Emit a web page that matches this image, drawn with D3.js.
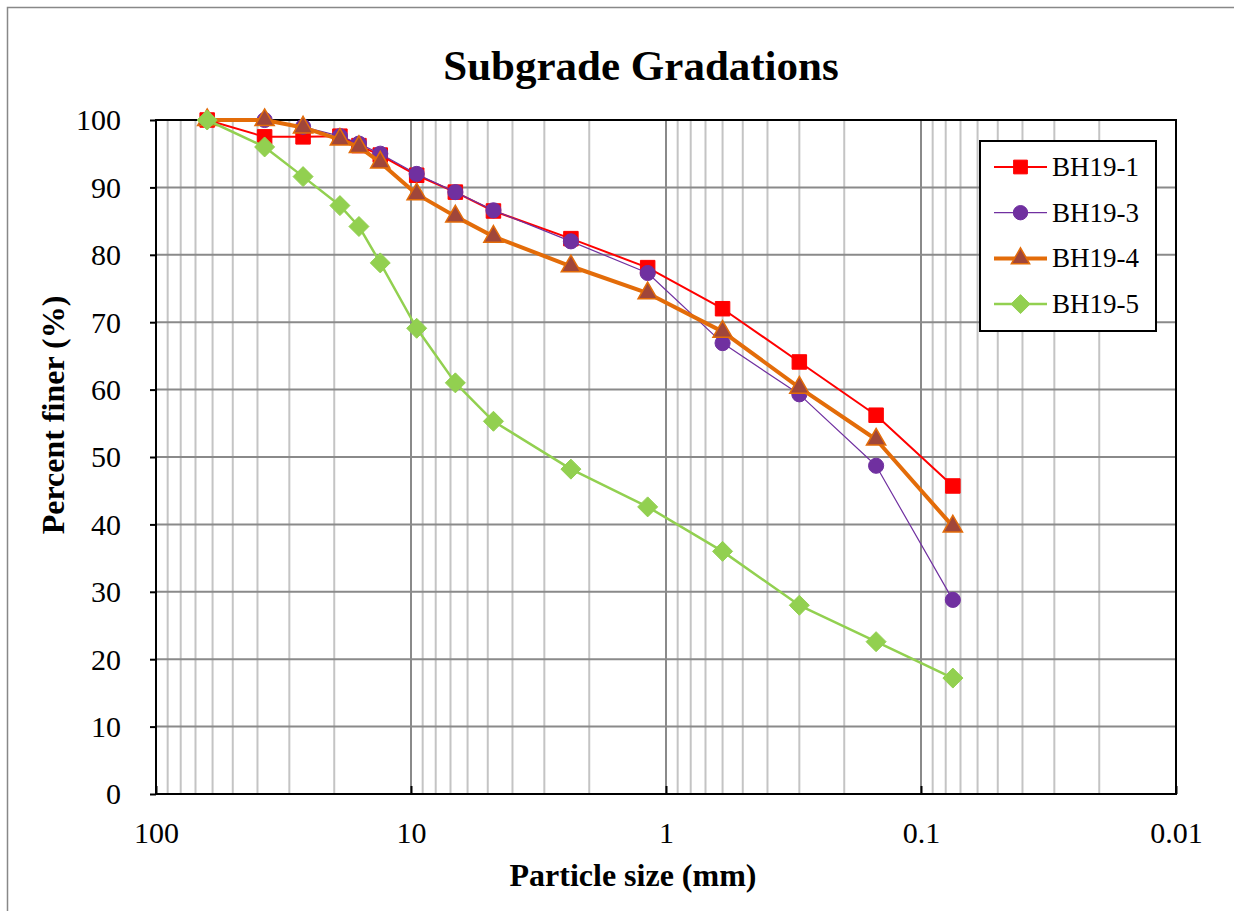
<!DOCTYPE html>
<html><head><meta charset="utf-8">
<script src="https://cdn.jsdelivr.net/npm/d3@7"></script>
<style>body{margin:0;background:#fff;} svg{display:block;}</style>
</head><body>
<script>
const sizes = [63, 37.5, 26.5, 19, 16, 13.2, 9.5, 6.7, 4.75, 2.36, 1.18, 0.6, 0.3, 0.15, 0.075];
const bh19_1 = [100, 97.5, 97.5, 97.6, 96.2, 94.8, 91.8, 89.3, 86.5, 82.4, 78.1, 72.0, 64.1, 56.2, 45.7];
const bh19_3 = [null, 100, 99.0, 97.6, 96.5, 95.0, 92.0, 89.3, 86.6, 82.0, 77.3, 66.9, 59.3, 48.7, 28.8];
const bh19_4 = [100, 100, 98.9, 97.1, 96.0, 93.7, 89.0, 85.7, 82.7, 78.3, 74.3, 68.6, 60.3, 52.6, 39.7];
const bh19_5 = [100, 96.0, 91.6, 87.3, 84.2, 78.8, 69.1, 61.0, 55.3, 48.2, 42.6, 36.0, 28.0, 22.6, 17.2];
const seriesNames = ["BH19-1", "BH19-3", "BH19-4", "BH19-5"];
const xTicks = [100, 10, 1, 0.1, 0.01];
const yTicks = [0, 10, 20, 30, 40, 50, 60, 70, 80, 90, 100];

const W = 1234, H = 911;
const L = 156, R = 1176, T = 120, B = 794;
const svg = d3.select("body").append("svg").attr("width", W).attr("height", H);
svg.append("rect").attr("x", 7.5).attr("y", 7.5).attr("width", W + 20).attr("height", H + 20)
  .attr("fill", "#fff").attr("stroke", "#888").attr("stroke-width", 1.5);

const x = d3.scaleLog().domain([100, 0.01]).range([L, R]);
const y = d3.scaleLinear().domain([0, 100]).range([B, T]);
const font = "'Liberation Serif','Times New Roman',serif";

// minor vertical grid
const minors = [];
[10, 1, 0.1, 0.01].forEach(d => { for (let k = 2; k <= 9; k++) minors.push(d * k); });
svg.append("g").selectAll("line").data(minors).join("line")
  .attr("x1", d => x(d)).attr("x2", d => x(d)).attr("y1", T).attr("y2", B)
  .attr("stroke", "#c4c4c4").attr("stroke-width", 2);
// major grid
svg.append("g").selectAll("line").data(xTicks.slice(1, 4)).join("line")
  .attr("x1", d => x(d)).attr("x2", d => x(d)).attr("y1", T).attr("y2", B)
  .attr("stroke", "#8a8a8a").attr("stroke-width", 2);
svg.append("g").selectAll("line").data(yTicks.slice(1, 10)).join("line")
  .attr("x1", L).attr("x2", R).attr("y1", d => y(d)).attr("y2", d => y(d))
  .attr("stroke", "#8a8a8a").attr("stroke-width", 2);

// plot border
svg.append("rect").attr("x", L).attr("y", T).attr("width", R - L).attr("height", B - T)
  .attr("fill", "none").attr("stroke", "#000").attr("stroke-width", 2);

// axes
const yAxis = svg.append("g").attr("transform", `translate(${L},0)`)
  .call(d3.axisLeft(y).tickValues(yTicks).tickSize(6).tickPadding(29).tickFormat(d3.format("d")));
yAxis.select(".domain").remove();
yAxis.selectAll("line").attr("stroke", "#000").attr("stroke-width", 2);
yAxis.selectAll("text").attr("font-family", font).attr("font-size", 30).attr("fill", "#000").attr("dy", "0.33em");

const xAxis = svg.append("g").attr("transform", `translate(0,${B})`)
  .call(d3.axisBottom(x).tickValues(xTicks).tickSize(-8).tickPadding(28).tickFormat(d => String(d)));
xAxis.select(".domain").remove();
xAxis.selectAll("line").attr("stroke", "#000").attr("stroke-width", 2);
xAxis.selectAll("text").attr("font-family", font).attr("font-size", 30).attr("fill", "#000");

// titles
svg.append("text").attr("x", 641).attr("y", 80).attr("text-anchor", "middle")
  .attr("font-family", font).attr("font-weight", "bold").attr("font-size", 43).text("Subgrade Gradations");
svg.append("text").attr("x", 633).attr("y", 886).attr("text-anchor", "middle")
  .attr("font-family", font).attr("font-weight", "bold").attr("font-size", 32).text("Particle size (mm)");
svg.append("text").attr("transform", "translate(64,415) rotate(-90)").attr("text-anchor", "middle")
  .attr("font-family", font).attr("font-weight", "bold").attr("font-size", 32).text("Percent finer (%)");

const diamond = {draw(ctx, size) { const r = Math.sqrt(size / 2); ctx.moveTo(0, -r); ctx.lineTo(r, 0); ctx.lineTo(0, r); ctx.lineTo(-r, 0); ctx.closePath(); }};

const styles = [
  {vals: bh19_1, line: "#ff0000", lw: 2, sym: d3.symbolSquare, size: 210, fill: "#ff0000", stroke: "#ff0000", sw: 1},
  {vals: bh19_3, line: "#7030a0", lw: 1.2, sym: d3.symbolCircle, size: 180, fill: "#7030a0", stroke: "#7030a0", sw: 1},
  {vals: bh19_4, line: "#e36c09", lw: 4, sym: d3.symbolTriangle, size: 160, fill: "#a0463a", stroke: "#e36c09", sw: 1.5},
  {vals: bh19_5, line: "#92d050", lw: 2.5, sym: diamond, size: 200, fill: "#92d050", stroke: "#92d050", sw: 1},
];

styles.forEach((s, i) => {
  const pts = sizes.map((d, j) => ({x: d, y: s.vals[j]})).filter(p => p.y != null);
  const g = svg.append("g");
  g.append("path").datum(pts)
    .attr("d", d3.line().x(p => x(p.x)).y(p => y(p.y)))
    .attr("fill", "none").attr("stroke", s.line).attr("stroke-width", s.lw).attr("stroke-linejoin", "round");
  g.selectAll("path.m").data(pts).join("path").attr("class", "m")
    .attr("transform", p => `translate(${x(p.x)},${y(p.y)})`)
    .attr("d", d3.symbol().type(s.sym).size(s.size))
    .attr("fill", s.fill).attr("stroke", s.stroke).attr("stroke-width", s.sw);
});

// legend
const lg = svg.append("g");
lg.append("rect").attr("x", 980).attr("y", 141).attr("width", 176).attr("height", 190)
  .attr("fill", "#fff").attr("stroke", "#000").attr("stroke-width", 2);
styles.forEach((s, i) => {
  const yy = 167 + i * 45.7;
  lg.append("line").attr("x1", 994).attr("x2", 1047).attr("y1", yy).attr("y2", yy)
    .attr("stroke", s.line).attr("stroke-width", s.lw);
  lg.append("path").attr("transform", `translate(1020.5,${yy})`)
    .attr("d", d3.symbol().type(s.sym).size(s.size * 0.9))
    .attr("fill", s.fill).attr("stroke", s.stroke).attr("stroke-width", s.sw);
  lg.append("text").attr("x", 1052).attr("y", yy).attr("dy", "0.33em")
    .attr("font-family", font).attr("font-size", 27).text(seriesNames[i]);
});
</script>
</body></html>
